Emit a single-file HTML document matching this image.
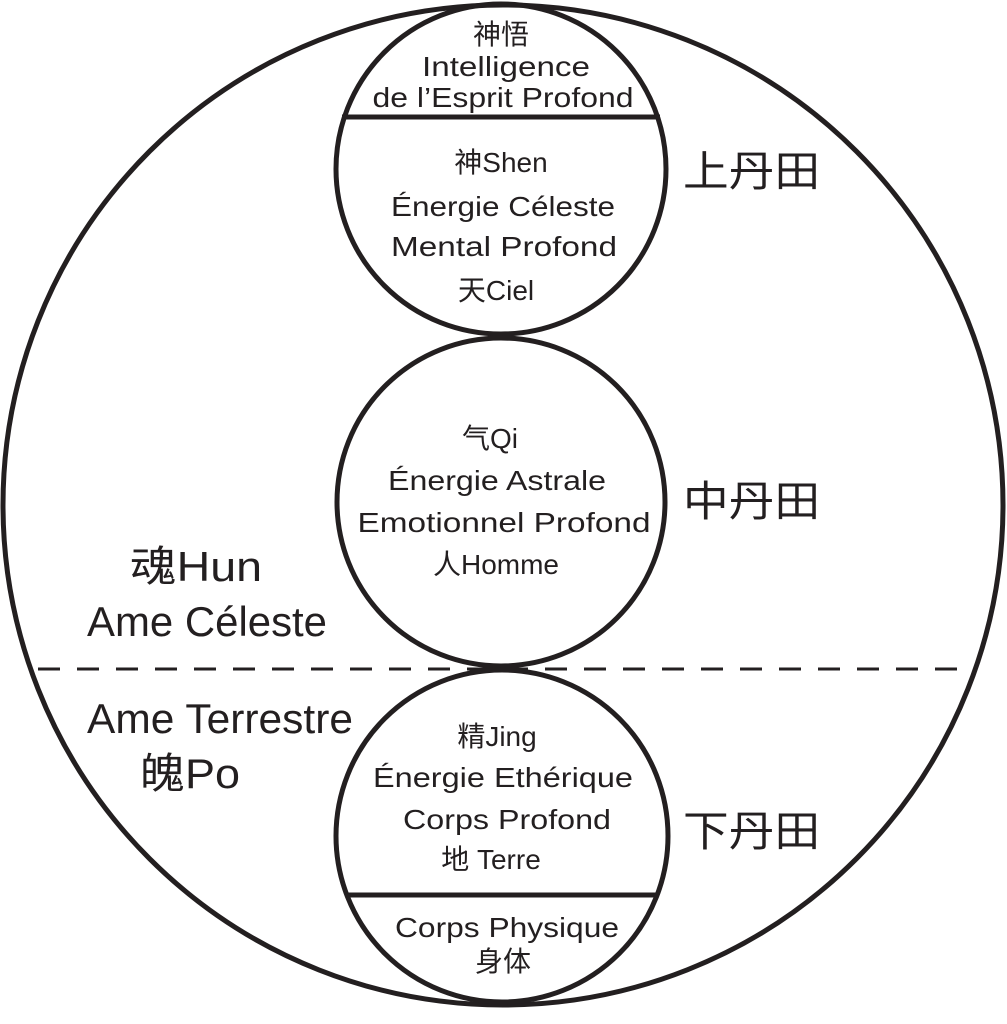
<!DOCTYPE html>
<html><head><meta charset="utf-8"><style>
html,body{margin:0;padding:0;background:#fff;width:1007px;height:1024px;overflow:hidden}
svg text{font-family:"Liberation Sans","Noto Sans CJK SC",sans-serif;fill:#231f20}
</style></head><body>
<svg width="1007" height="1024" viewBox="0 0 1007 1024" xmlns="http://www.w3.org/2000/svg">
<g fill="none" stroke="#231f20" stroke-width="5">
<ellipse cx="503" cy="505" rx="500" ry="500"/>
<circle cx="501" cy="169" r="165"/>
<circle cx="501" cy="502" r="164"/>
<circle cx="502" cy="836" r="166"/>
<line x1="342" y1="117" x2="660" y2="117"/>
<line x1="348" y1="895" x2="656" y2="895"/>
</g>
<line x1="38" y1="669" x2="972" y2="669" stroke="#231f20" stroke-width="3" stroke-dasharray="22 17"/>
<g font-size="28" text-anchor="middle">
<text x="501" y="44">神悟</text>
<text x="506" y="76" textLength="168" lengthAdjust="spacingAndGlyphs">Intelligence</text>
<text x="503" y="107" textLength="261" lengthAdjust="spacingAndGlyphs">de l’Esprit Profond</text>
<text x="501" y="172">神Shen</text>
<text x="503" y="216" textLength="224" lengthAdjust="spacingAndGlyphs">Énergie Céleste</text>
<text x="504" y="256" textLength="226" lengthAdjust="spacingAndGlyphs">Mental Profond</text>
<text x="496" y="300">天Ciel</text>
<text x="490" y="448">气Qi</text>
<text x="497" y="490" textLength="218" lengthAdjust="spacingAndGlyphs">Énergie Astrale</text>
<text x="504" y="532" textLength="293" lengthAdjust="spacingAndGlyphs">Emotionnel Profond</text>
<text x="496" y="574">人Homme</text>
<text x="497" y="746">精Jing</text>
<text x="503" y="787" textLength="260" lengthAdjust="spacingAndGlyphs">Énergie Ethérique</text>
<text x="507" y="829" textLength="208" lengthAdjust="spacingAndGlyphs">Corps Profond</text>
<text x="491" y="869">地 Terre</text>
<text x="507" y="937" textLength="224" lengthAdjust="spacingAndGlyphs">Corps Physique</text>
<text x="503" y="971">身体</text>
</g>
<g font-size="42">
<text x="683" y="186" textLength="137" lengthAdjust="spacingAndGlyphs">上丹田</text>
<text x="683" y="516" textLength="137" lengthAdjust="spacingAndGlyphs">中丹田</text>
<text x="683" y="846" textLength="137" lengthAdjust="spacingAndGlyphs">下丹田</text>
<text x="130" y="581" textLength="132" lengthAdjust="spacingAndGlyphs">魂Hun</text>
<text x="87" y="636" textLength="240" lengthAdjust="spacingAndGlyphs">Ame Céleste</text>
<text x="87" y="733" textLength="266" lengthAdjust="spacingAndGlyphs">Ame Terrestre</text>
<text x="140" y="788" textLength="100" lengthAdjust="spacingAndGlyphs">魄Po</text>
</g>
</svg>
</body></html>
